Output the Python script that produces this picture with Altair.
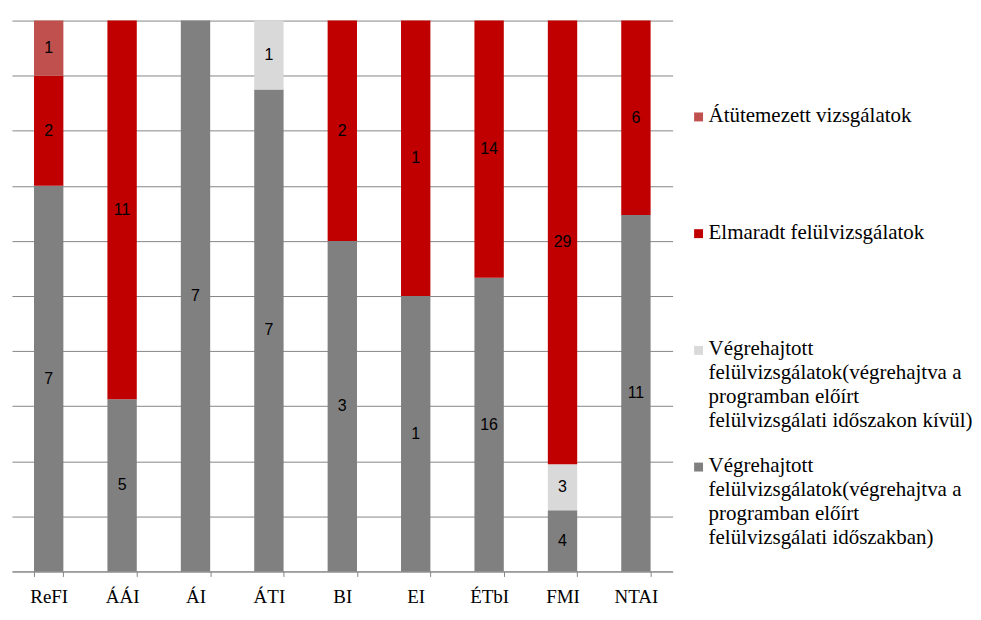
import altair as alt
import pandas as pd

categories = ["ReFI", "ÁÁI", "ÁI", "ÁTI", "BI", "EI", "ÉTbI", "FMI", "NTAI"]
series = [
    "Végrehajtott felülvizsgálatok(végrehajtva a programban előírt felülvizsgálati időszakban)",
    "Végrehajtott felülvizsgálatok(végrehajtva a programban előírt felülvizsgálati időszakon kívül)",
    "Elmaradt felülvizsgálatok",
    "Átütemezett vizsgálatok",
]
legend_labels = [
    "Végrehajtott\nfelülvizsgálatok(végrehajtva a\nprogramban előírt\nfelülvizsgálati időszakban)",
    "Végrehajtott\nfelülvizsgálatok(végrehajtva a\nprogramban előírt\nfelülvizsgálati időszakon kívül)",
    "Elmaradt felülvizsgálatok",
    "Átütemezett vizsgálatok",
]
on_time = [7, 5, 7, 7, 3, 1, 16, 4, 11]
outside_period = [0, 0, 0, 1, 0, 0, 0, 3, 0]
missed = [2, 11, 0, 0, 2, 1, 14, 29, 6]
rescheduled = [1, 0, 0, 0, 0, 0, 0, 0, 0]
colors = ["#808080", "#d9d9d9", "#c00000", "#c0504d"]

values = [on_time, outside_period, missed, rescheduled]
rows = []
for si, (s, vals) in enumerate(zip(series, values)):
    for c, v in zip(categories, vals):
        rows.append({"category": c, "series": s, "order": si, "value": v})
df = pd.DataFrame(rows)

legend_df = pd.DataFrame({
    "series": series,
    "label": legend_labels,
})
legend_order = list(reversed(series))

SERIF = "Liberation Serif, Times New Roman, serif"

base = (
    alt.Chart(df)
    .transform_filter("datum.value > 0")
    .transform_stack(
        stack="value",
        groupby=["category"],
        as_=["y0", "y1"],
        offset="normalize",
        sort=[alt.SortField("order", order="ascending")],
    )
)

xenc = alt.X(
    "category:N",
    sort=categories,
    scale=alt.Scale(paddingInner=0.6, paddingOuter=0.3),
    axis=alt.Axis(
        title=None,
        labelAngle=0,
        labelFont="Liberation Serif",
        labelFontSize=19,
        labelColor="#000000",
        labelPadding=11,
        domainColor="#868686",
        tickColor="#868686",
        tickSize=5,
        tickBand="extent",
    ),
)

bars = base.mark_bar().encode(
    x=xenc,
    y=alt.Y(
        "y0:Q",
        scale=alt.Scale(domain=[0, 1], nice=False, zero=True),
        axis=alt.Axis(
            title=None,
            labels=False,
            ticks=False,
            domain=False,
            grid=True,
            gridColor="#868686",
            values=[i / 10 for i in range(11)],
        ),
    ),
    y2="y1:Q",
    color=alt.Color(
        "series:N",
        scale=alt.Scale(domain=series, range=colors),
        legend=None,
    ),
)

labels = (
    base.transform_calculate(mid="(datum.y0 + datum.y1) / 2")
    .mark_text(font="Liberation Sans, Arial, sans-serif", fontSize=16, color="#000000")
    .encode(
        x=alt.X("category:N", sort=categories),
        y=alt.Y("mid:Q"),
        text=alt.Text("value:Q"),
    )
)

main = alt.layer(bars, labels).properties(width=662, height=552)

ly = alt.Y(
    "series:N",
    scale=alt.Scale(domain=legend_order, type="point", padding=0.86, align=0.48),
    axis=None,
)
leg_sym = alt.Chart(legend_df).mark_square(size=80, opacity=1).encode(
    x=alt.value(26),
    y=ly,
    color=alt.Color("series:N", scale=alt.Scale(domain=series, range=colors), legend=None),
)
leg_txt = alt.Chart(legend_df).mark_text(
    font=SERIF,
    align="left",
    baseline="top",
    dy=-12,
    lineBreak="\n",
    lineHeight=24,
    fontSize=21,
    color="#000000",
).encode(
    x=alt.value(36),
    y=ly,
    text="label:N",
)
legend = alt.layer(leg_sym, leg_txt).properties(width=290, height=552)

chart = (
    alt.hconcat(main, legend, spacing=0)
    .properties(padding={"left": 4, "top": 12, "right": 0, "bottom": 0})
    .configure_view(stroke=None)
)

chart.save("out.html", embed_options={"renderer": "svg", "actions": False})
